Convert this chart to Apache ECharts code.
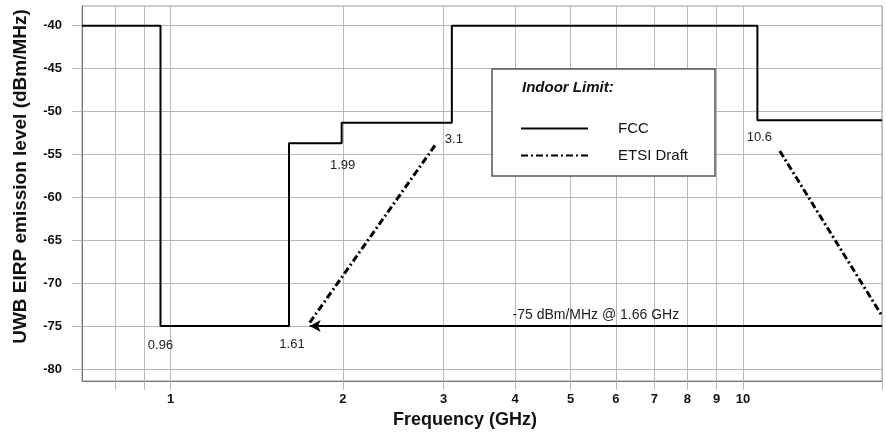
<!DOCTYPE html>
<html>
<head>
<meta charset="utf-8">
<script src="https://cdn.jsdelivr.net/npm/echarts@6.0.0/dist/echarts.min.js"></script>
<style>
  html, body { margin: 0; padding: 0; background: #fff; }
  #uwb-chart { width: 886px; height: 432px; }
</style>
</head>
<body>
<div id="uwb-chart"></div>
<script>
// FCC indoor mask: each level holds from its edge up to the next edge
const fccEdges = [0.7, 0.96, 1.61, 1.99, 3.1, 10.6, 17.5];
const fccLevels = [-40, -75, -53.7, -51.3, -40, -51, -51];

// ETSI draft, two sloped legs
const etsiLowFreq = [1.75, 2.9];
const etsiLowLevel = [-74.6, -53.9];
const etsiHighFreq = [11.6, 17.5];
const etsiHighLevel = [-54.6, -73.8];

// -75 dBm/MHz floor arrow
const floorFreq = [1.75, 17.5];
const floorLevel = -75;
const floorText = '-75 dBm/MHz @ 1.66 GHz';

const freqLabels = [1, 2, 3, 4, 5, 6, 7, 8, 9, 10];
const freqGrid = [0.8, 0.9, 1, 2, 3, 4, 5, 6, 7, 8, 9, 10, 17.5];
const levelTicks = [-80, -75, -70, -65, -60, -55, -50, -45, -40];

const cornerLabels = ['0.96', '1.61', '1.99', '3.1', '10.6'];

const font = '"Liberation Sans", Arial, sans-serif';
const gridGrey = '#b8b8b8';

const chartDom = document.getElementById('uwb-chart');
const myChart = echarts.init(chartDom, null, { renderer: 'canvas' });

const fccData = fccEdges.map((f, i) => [f, fccLevels[i]]);

const cornerOffsets = [[0, 19], [3, 18], [1, 22], [2, 17], [2, 17]];
const cornerPoints = cornerLabels.map((txt, i) => ({
  coord: [fccEdges[i + 1], Math.min(fccLevels[i], fccLevels[i + 1])],
  label: { formatter: txt, offset: cornerOffsets[i] }
}));

const etsiStyle = { color: '#000', width: 3, type: [7, 3, 2, 3] };

const option = {
  animation: false,
  textStyle: { fontFamily: font },
  title: {
    text: 'Indoor Limit:',
    left: 522,
    top: 80,
    padding: 0,
    z: 20,
    textStyle: { fontSize: 15, fontWeight: 'bold', fontStyle: 'italic', color: '#111', fontFamily: font }
  },
  graphic: [{
    type: 'rect',
    z: 5,
    shape: { x: 492, y: 69, width: 223, height: 107 },
    style: { fill: '#fff', stroke: '#555', lineWidth: 1.5 }
  }],
  legend: {
    data: ['FCC', 'ETSI Draft'],
    orient: 'vertical',
    left: 520,
    top: 121,
    padding: 0,
    itemWidth: 67,
    itemHeight: 14,
    itemGap: 12,
    selectedMode: false,
    z: 20,
    // hide the marker dot, keep only the line sample
    itemStyle: { color: 'rgba(0,0,0,0)', borderWidth: 0, opacity: 0 },
    textStyle: { fontSize: 15, color: '#111', padding: [0, 0, 0, 25], fontFamily: font }
  },
  grid: {
    left: 82,
    right: 4,
    top: 6,
    bottom: 51,
    show: true,
    borderColor: '#999',
    borderWidth: 1,
    outerBoundsMode: 'none'
  },
  xAxis: {
    type: 'log',
    logBase: 10,
    min: 0.7,
    max: 17.5,
    name: 'Frequency (GHz)',
    nameLocation: 'middle',
    nameGap: 30,
    nameTextStyle: { fontSize: 18, fontWeight: 'bold', color: '#111', padding: [0, 34, 0, 0], fontFamily: font },
    axisLine: { show: true, lineStyle: { color: '#777', width: 1 } },
    axisTick: { show: true, length: 9, customValues: freqGrid, lineStyle: { color: gridGrey } },
    axisLabel: { customValues: freqLabels, fontSize: 13, fontWeight: 'bold', color: '#111', margin: 12, fontFamily: font },
    splitLine: { show: true, lineStyle: { color: gridGrey, width: 1 } },
    minorTick: { show: false },
    minorSplitLine: { show: false }
  },
  yAxis: {
    type: 'value',
    min: -81.4,
    max: -37.7,
    name: 'UWB EIRP emission level (dBm/MHz)',
    nameLocation: 'middle',
    nameGap: 52,
    nameTextStyle: { fontSize: 19, fontWeight: 'bold', color: '#111', padding: [0, 0, 0, 34], fontFamily: font },
    axisLine: { show: true, lineStyle: { color: '#777', width: 1 } },
    axisTick: { show: true, length: 10, customValues: levelTicks, lineStyle: { color: gridGrey } },
    axisLabel: { customValues: levelTicks, fontSize: 13, fontWeight: 'bold', color: '#111', margin: 20, fontFamily: font },
    splitLine: { show: true, lineStyle: { color: gridGrey, width: 1 } }
  },
  series: [
    {
      name: 'FCC',
      type: 'line',
      step: 'end',
      data: fccData,
      symbol: 'none',
      lineStyle: { color: '#000', width: 2 },
      itemStyle: { color: '#000' },
      emphasis: { disabled: true },
      markPoint: {
        silent: true,
        symbol: 'circle',
        symbolSize: 1,
        itemStyle: { color: 'rgba(0,0,0,0)' },
        label: { show: true, position: 'inside', color: '#222', fontSize: 13, fontFamily: font },
        data: cornerPoints
      },
      z: 3
    },
    {
      name: 'floor',
      type: 'line',
      data: [],
      markLine: {
        silent: true,
        symbol: ['arrow', 'none'],
        symbolSize: [9, 11],
        lineStyle: { color: '#000', width: 2, type: 'solid' },
        label: {
          show: true,
          position: 'insideMiddleTop',
          formatter: floorText,
          color: '#222',
          fontSize: 14,
          distance: 4,
          fontFamily: font
        },
        data: [[{ coord: [floorFreq[0], floorLevel] }, { coord: [floorFreq[1], floorLevel] }]]
      },
      z: 2
    },
    {
      name: 'ETSI Draft',
      type: 'line',
      data: etsiLowFreq.map((f, i) => [f, etsiLowLevel[i]]),
      symbol: 'none',
      lineStyle: etsiStyle,
      itemStyle: { color: '#000' },
      emphasis: { disabled: true },
      z: 4
    },
    {
      name: 'ETSI Draft',
      type: 'line',
      data: etsiHighFreq.map((f, i) => [f, etsiHighLevel[i]]),
      symbol: 'none',
      lineStyle: etsiStyle,
      itemStyle: { color: '#000' },
      emphasis: { disabled: true },
      z: 4
    }
  ]
};

myChart.setOption(option);

window.addEventListener('resize', () => {
  myChart.resize();
});
</script>
</body>
</html>
